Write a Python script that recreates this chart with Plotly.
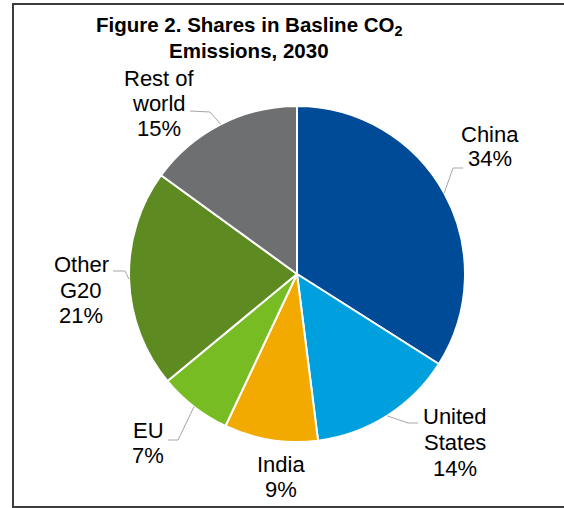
import math
import plotly.graph_objects as go

# ---- data ----
regions = ["China", "United States", "India", "EU", "Other G20", "Rest of world"]
shares = [34, 14, 9, 7, 21, 15]
label_lines = [["China", "34%"], ["United", "States", "14%"], ["India", "9%"], ["EU", "7%"],
               ["Other", "G20", "21%"], ["Rest of", "world", "15%"]]
colors = ["#004b97", "#00a0df", "#f2a900", "#77bc22", "#5e8a22", "#6e6f70"]
title_lines = ["<b>Figure 2. Shares in Basline CO<sub>2</sub></b>", "<b>Emissions, 2030</b>"]

W, H = 564, 508
CX, CY, R = 297, 274, 168

# label placement: centre x and cap-top y of each line (pixels)
label_x = [490, 455, 281, 148, 81, 159]
label_tops = [[127, 151], [409, 435, 461], [457, 482], [423, 448], [257, 283, 308], [71, 96, 121]]
leaders = [((453, 168), (463, 168)), ((408, 423), (418, 423)), None,
           ((178, 440), (168, 440)), ((125, 271), (113, 271)), ((210, 112), (190, 111))]
title_x = 249
title_tops = [19, 43]

FONT = "Liberation Sans, Arial, sans-serif"
LSIZE = 22
TSIZE = 20.5

fig = go.Figure()
fig.add_trace(go.Pie(
    labels=regions, values=shares, sort=False, direction="clockwise", rotation=0,
    marker=dict(colors=colors, line=dict(color="white", width=2)),
    textinfo="none", hoverinfo="label+percent", showlegend=False,
    domain=dict(x=[(CX - R) / W, (CX + R) / W], y=[(H - CY - R) / H, (H - CY + R) / H]),
))

# invisible pixel-space axes for annotations and shapes
fig.add_trace(go.Scatter(x=[0, W], y=[0, H], mode="markers", marker=dict(opacity=0),
                         hoverinfo="skip", showlegend=False))

total = sum(shares)
cum = 0
shapes = []
annotations = []
for i, v in enumerate(shares):
    mid = (cum + v / 2) / total * 2 * math.pi
    cum += v
    sx = CX + R * math.sin(mid)
    sy = CY - R * math.cos(mid)
    if leaders[i] is not None:
        (ex, ey), (tx, ty) = leaders[i]
        shapes.append(dict(type="path", xref="x", yref="y",
                           path=f"M {sx:.1f},{sy:.1f} L {ex},{ey} L {tx},{ty}",
                           line=dict(color="#a6a6a6", width=1)))
    for line, top in zip(label_lines[i], label_tops[i]):
        annotations.append(dict(x=label_x[i], y=top + 0.36 * LSIZE, xref="x", yref="y", text=line,
                                showarrow=False, xanchor="center", yanchor="middle",
                                font=dict(family=FONT, size=LSIZE, color="#000000")))

for line, top in zip(title_lines, title_tops):
    annotations.append(dict(x=title_x, y=top + 0.36 * TSIZE, xref="x", yref="y", text=line,
                            showarrow=False, xanchor="center", yanchor="middle",
                            font=dict(family=FONT, size=TSIZE, color="#000000")))

shapes.append(dict(type="rect", xref="x", yref="y", x0=13, y0=4, x1=580, y1=507,
                   line=dict(color="#3c3c3c", width=2), layer="above"))

fig.update_layout(
    width=W, height=H, margin=dict(l=0, r=0, t=0, b=0),
    paper_bgcolor="white", plot_bgcolor="rgba(0,0,0,0)",
    xaxis=dict(range=[0, W], visible=False, fixedrange=True),
    yaxis=dict(range=[H, 0], visible=False, fixedrange=True),
    shapes=shapes, annotations=annotations,
)

fig.write_html("out.html", config={"displayModeBar": False},
               post_script="document.body.style.margin='0';document.body.style.overflow='hidden';")
